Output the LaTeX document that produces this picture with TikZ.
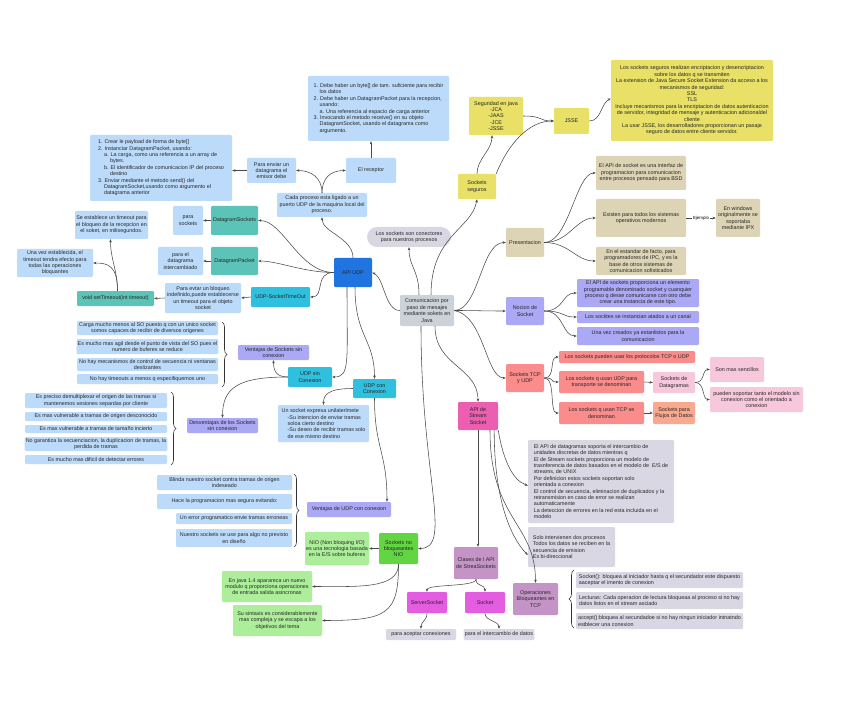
\documentclass[tikz,border=0pt]{standalone}
\usepackage{fontspec}
\setmainfont{Liberation Sans}
\usetikzlibrary{arrows.meta,decorations.pathreplacing}
\definecolor{cYel}{HTML}{E8E067}
\definecolor{cLBlue}{HTML}{BCDBFB}
\definecolor{cTeal}{HTML}{5CC3B8}
\definecolor{cCyan}{HTML}{2EC0DE}
\definecolor{cDBlue}{HTML}{1F74E0}
\definecolor{cPurp}{HTML}{ABA8F5}
\definecolor{cTan}{HTML}{DCD4B4}
\definecolor{cSalm}{HTML}{FA8C8C}
\definecolor{cLPink}{HTML}{F7C8DC}
\definecolor{cOrng}{HTML}{F8A98F}
\definecolor{cHPink}{HTML}{EC5EAF}
\definecolor{cGrey}{HTML}{CDD2D9}
\definecolor{cLav}{HTML}{D9D7E4}
\definecolor{cLGreen}{HTML}{ADEE9A}
\definecolor{cGreen}{HTML}{62D543}
\definecolor{cMauve}{HTML}{C594C7}
\definecolor{cMag}{HTML}{E45DE0}
\definecolor{cLine}{HTML}{4A4A4A}
\newcommand\fs{\fontsize{5.4}{6.4}\selectfont}
\newcommand\ind{\hspace*{6pt}}
\newcommand\boxat[7]{%
  \pgfmathsetmacro\bxw{#5-#3}%
  \pgfmathsetmacro\bxh{#6-#4}%
  \pgfmathsetmacro\bxx{(#3+#5)/2}%
  \pgfmathsetmacro\bxy{(#4+#6)/2}%
  \node[#2, minimum width=\bxw pt, minimum height=\bxh pt] (#1) at (\bxx,\bxy) {#7};}
\tikzset{
  base/.style={rounded corners=1.2pt, inner sep=1.2pt, font=\fs, align=center, text=black!85},
  byel/.style={base, fill=cYel},
  bblue/.style={base, fill=cLBlue},
  bteal/.style={base, fill=cTeal},
  bcyan/.style={base, fill=cCyan},
  bdblue/.style={base, fill=cDBlue},
  bpurp/.style={base, fill=cPurp},
  btan/.style={base, fill=cTan},
  bsalm/.style={base, fill=cSalm},
  blpink/.style={base, fill=cLPink},
  borng/.style={base, fill=cOrng},
  bhpink/.style={base, fill=cHPink},
  bgrey/.style={base, fill=cGrey},
  blav/.style={base, fill=cLav},
  blgreen/.style={base, fill=cLGreen},
  bgreen/.style={base, fill=cGreen},
  bmauve/.style={base, fill=cMauve},
  bmag/.style={base, fill=cMag},
  lnk/.style={draw=cLine, line width=0.55pt, -{Stealth[length=3.2pt,width=2.6pt]}},
  brc/.style={decorate, decoration={brace, amplitude=5pt}, draw=black!80, line width=0.6pt},
}
\begin{document}
\begin{tikzpicture}[x=1pt,y=-1pt]
\useasboundingbox (0,0) rectangle (848,727);
\fill[white] (0,0) rectangle (848,727);

% ---------- top right: secure sockets
\boxat{seg}{byel}{469}{97}{523}{135}{Seguridad en java\\-JCA\\-JAAS\\-JCE\\-JSSE}
\boxat{jsse}{byel}{554}{108}{589}{134}{JSSE}
\boxat{seginfo}{byel}{611}{60}{773}{141}{Los sockets seguros realizan encriptacion y desencriptacion\\sobre los datos q se transmiten\\La extension de Java Secure Socket Extension da acceso a los\\mecanismos de seguridad:\\SSL\\TLS\\Incluye mecanismos para la encriptacion de datos autenticacion\\de servidor, integridad de mensaje y autenticacion adicionaldel\\cliente\\La usar JSSE, los desarrolladores proporcionan un pasaje\\seguro de datos entre cliente servidor.}
\boxat{sockseg}{byel}{458}{174}{496}{199}{Sockets\\seguros}

% ---------- top middle: UDP datagrams
\boxat{recbox}{bblue, align=left}{308}{76}{449}{141}{1. Debe haber un byte[] de tam. suficiente para recibir\\\ind los datos\\2. Debe haber un DatagramPacket para la recepcion,\\\ind usando:\\\ind a. Una referencia al espacio de carga anterior\\3. Invocando el metodo receive() en su objeto\\\ind DatagramSocket, usando el datagrama como\\\ind argumento.}
\boxat{receptor}{bblue}{346}{158}{396}{183}{El receptor}
\boxat{paraenviar}{bblue}{247}{158}{296}{183}{Para enviar un\\datagrama el\\emisor debe}
\boxat{cada}{bblue}{277}{193}{367}{217}{Cada proceso esta ligado a un\\puerto UDP de la maquina local del\\proceso.}
\boxat{emitbox}{bblue, align=left}{90}{135}{232}{201}{1. Crear le payload de forma de byte[]\\2. Instanciar DatagramPacket, usando:\\\ind a. La carga, como una referencia a un array de\\\ind\ind bytes.\\\ind b. El identificador de comunicacion IP del proceso\\\ind\ind destino\\3. Enviar mediante el metodo send() del\\\ind DatagramSocket,usando como argumento el\\\ind datagrama anterior}
\boxat{niudp}{bdblue}{334}{258}{372}{287}{API UDP}

% ---------- left
\boxat{dgsockets}{bteal}{211}{206}{258}{235}{DatagramSockets}
\boxat{parasockets}{bblue}{173}{206}{203}{235}{para\\sockets}
\boxat{dgpacket}{bteal}{211}{247}{258}{275}{DatagramPacket}
\boxat{paradg}{bblue}{158}{247}{203}{275}{para el\\datagrama\\intercambiado}
\boxat{udpto}{bcyan}{251}{287}{310}{307}{UDP-SocketTimeOut}
\boxat{evitar}{bblue}{165}{283}{241}{313}{Para evtar un bloqueo\\indefinido,puede establecerse\\un timeout para el objeto\\socket}
\boxat{settimeout}{bteal}{77}{291}{154}{306}{void setTimeout(int timeout)}
\boxat{tmo1}{bblue}{75}{211}{148}{239}{Se establece un timeout para\\el bloqueo de la recepcion en\\el soket, en milisegundos.}
\boxat{tmo2}{bblue}{17}{249}{93}{277}{Una vez establecida, el\\timeout tendra efecto para\\todas las operaciones\\bloquantes}

% ---------- left middle
\boxat{ventsc}{bpurp}{238}{345}{309}{360}{Ventajas de Sockets sin\\conexion}
\boxat{udpsin}{bcyan}{288}{367}{332}{387}{UDP sin\\Conexion}
\boxat{udpcon}{bcyan}{353}{379}{396}{398}{UDP con\\Conexion}
\boxat{udpconinfo}{bblue, align=left}{278}{405}{369}{442}{Un socket expresa unilaterlmete\\\ind -Su intencion de enviar tramas\\\ind soloa cierto destino\\\ind -Su deseo de recibir tramas solo\\\ind de ese mismo destino}
\boxat{desv}{bpurp}{187}{418}{258}{433}{Desventajas de los Sockets\\sin conexion}
\boxat{v1}{bblue}{77}{321}{218}{335}{Carga mucho menos al SO puesto q con un unico socket\\somos capaces de recibir de diversos origenes}
\boxat{v2}{bblue}{77}{339}{218}{354}{Es mucho mas agil desde el punto de vista del SO pues el\\numero de buferes se reduce}
\boxat{v3}{bblue}{77}{358}{218}{371}{No hay mecanismos de control de secuencia ni ventanas\\deslizantes}
\boxat{v4}{bblue}{77}{374}{218}{384}{No hay timeouts a menos q especifiquemos uno}
\draw[brc] (222,322) -- (222,387);
\boxat{d1}{bblue}{25}{393}{167}{408}{Es preciso demultiplexar el origen de las tramas si\\mantenemos sesiones separdas por cliente}
\boxat{d2}{bblue}{25}{412}{167}{421}{Es mas vulnerable a tramas de origen desconocido}
\boxat{d3}{bblue}{25}{425}{167}{433}{Es mas vulnerable a tramas de tamaño incierto}
\boxat{d4}{bblue}{25}{437}{167}{451}{No garantiza la secuenciacion, la duplicacion de tramas, la\\perdida de tramas}
\boxat{d5}{bblue}{25}{455}{167}{464}{Es mucho mas dificil de detectar errores}
\draw[brc] (171,392) -- (171,465);

% ---------- bottom left
\boxat{ventudp}{bpurp}{307}{502}{391}{517}{Ventajas de UDP con conexion}
\boxat{u1}{bblue}{157}{475}{292}{490}{Blinda nuestro socket contra tramas de origen\\indeseado}
\boxat{u2}{bblue}{157}{494}{292}{509}{Hace la programacion mas segura evitando:}
\boxat{u3}{bblue}{176}{513}{292}{524}{Un error programatico envie tramas erroneas}
\boxat{u4}{bblue}{176}{529}{292}{547}{Nuestro sockets se use para algo no previsto\\en diseño}
\draw[brc] (294,474) -- (294,547);
\boxat{nio}{blgreen}{305}{532}{369}{565}{NIO (Non bloquing I/O)\\es una tecnologia basada\\en la E/S sobre buferes}
\boxat{socknb}{bgreen}{379}{533}{418}{564}{Sockets no\\bloqueantes\\NIO}
\boxat{j14}{blgreen}{222}{571}{312}{602}{En java 1.4 aparareca un nuevo\\modulo q proporciona operaciones\\de entrada salida asincronas}
\boxat{sintaxis}{blgreen}{233}{605}{322}{636}{Su sintaxis es considerablemente\\mas compleja y se escapa a los\\objetivos del tema}

% ---------- centre
\boxat{com}{bgrey}{400}{295}{454}{326}{Comunicacion por\\paso de mesajes\\mediante sokets en\\Java}
\node[base, fill=cLav, rounded corners=10pt, minimum width=84pt, minimum height=20pt] (conectores) at (409,237) {Los sockets son conectores\\para nuestros procesos};

% ---------- right
\boxat{pres}{btan}{506}{228}{544}{257}{Presentacion}
\boxat{nocion}{bpurp}{506}{297}{544}{325}{Nocion de\\Socket}
\boxat{socktcp}{bsalm}{506}{364}{544}{392}{Sockets TCP\\y UDP}
\boxat{apistream}{bhpink}{458}{402}{498}{430}{API de\\Stream\\Socket}
\boxat{p1}{btan}{596}{156}{686}{190}{El API de socket es una interfaz de\\programacion para comunicacion\\entre procesos pensado para BSD}
\boxat{p2}{btan}{596}{199}{686}{237}{Existen para todos los sistemas\\operativos modernos}
\boxat{p3}{btan}{596}{247}{686}{275}{En el estandar de facto, para\\programadores de IPC, y es la\\base de otros sistemas de\\comunicacion sofisticados}
\boxat{windows}{btan}{716}{199}{760}{237}{En windows\\originalmente se\\soportaba\\mediante IPX}
\boxat{n1}{bpurp}{577}{279}{699}{307}{El API de sockets proporciona un elemento\\programable denominado socket y cuanquier\\proceso q desse comunicarse con otro debe\\crear una instancia de este tipo.}
\boxat{n2}{bpurp}{577}{311}{699}{323}{Los socktes se instancian atados a un canal}
\boxat{n3}{bpurp}{577}{327}{699}{345}{Una vez creados ya estanlistos para la\\comunicacion}
\boxat{t1}{bsalm}{559}{351}{695}{363}{Los sockets pueden usar los protocolos TCP o UDP}
\boxat{t2}{bsalm}{559}{371}{644}{393}{Los sockets q usan UDP para\\transporte se denominan}
\boxat{t3}{bsalm}{559}{402}{644}{424}{Los sockets q usan TCP se\\denominan}
\boxat{dgram}{blpink}{653}{372}{695}{393}{Sockets de\\Datagramas}
\boxat{flujo}{borng}{653}{402}{695}{424}{Sockets para\\Flujos de Datos}
\boxat{sencillos}{blpink}{710}{357}{764}{382}{Son mas sencillos}
\boxat{soportar}{blpink}{710}{387}{803}{412}{pueden soportar tanto el modelo sin\\conexion como el orientado a\\conexion}

% ---------- bottom middle / right
\boxat{bigbox}{blav, align=left}{528}{440}{674}{523}{El API de datagramas soporta el intercambio de\\unidades discretas de datos mientras q\\El de Stream sockets proporciona un modelo de\\trasnferencia de datos basados en el modelo de\ \ E/S de\\streams, de UNIX\\Por definicion estos sockets soportan solo\\orientada a conexion\\El control de secuencia, eliminacion de duplicados y la\\retransmision en caso de error se realizan\\automaticamente\\La deteccion de errores en la red esta incluida en el\\modelo}
\boxat{solo}{blav, align=left}{528}{527}{615}{567}{Solo intervienen dos procesos\\Todos los datos se reciben en la\\secuencia de emision\\Es bi-direccional}
\boxat{clases}{bmauve}{454}{547}{498}{579}{Clases de l API\\de StreaSockets}
\boxat{ops}{bmauve}{513}{583}{558}{615}{Operaciones\\Bloqueantes en\\TCP}
\boxat{server}{bmag}{407}{592}{447}{613}{ServerSocket}
\boxat{socket}{bmag}{465}{592}{505}{613}{Socket}
\boxat{aceptar}{blav}{386}{629}{456}{640}{para aceptar conexiones}
\boxat{intercambio}{blav}{464}{629}{534}{640}{para el intercambio de datos}
\boxat{o1}{blav, align=left}{576}{572}{743}{588}{Socket(): bloquea al iniciador hasta q el secundador este dispuesto\\aaceptar el imento de conexion}
\boxat{o2}{blav, align=left}{576}{592}{743}{609}{Lecturas: Cada operacion de lectura bloqueaa al proceso si no hay\\datos listos en el stream asciado}
\boxat{o3}{blav, align=left}{576}{613}{743}{629}{accept():bloquea al secundadoe si no hay ningun iniciador intnatndo\\estblecer una conexion}
\draw[brc] (574,628) -- (574,570);

% ---------- connectors
\draw[lnk] ([xshift=-8pt]com.north) .. controls +(0,-25) and +(0,20) .. (conectores.south);
\draw[lnk] ([xshift=4pt]com.north) .. controls +(0,-60) and +(-5,30) .. (sockseg.south);
\draw[lnk] (sockseg.north) .. controls +(0,-15) and +(0,15) .. ([xshift=-4pt]seg.south);
\draw[lnk] (sockseg.north east) .. controls +(12,-30) and +(-25,0) .. (jsse.west);
\draw[lnk] (seg.east) .. controls +(20,0) and +(-15,0) .. (jsse.west);
\draw[lnk] (jsse.east) .. controls +(12,0) and +(-10,5) .. ([yshift=2pt]seginfo.west);

\draw[lnk] (com.west) .. controls +(-15,0) and +(12,5) .. (niudp.east);
\draw[lnk] (niudp.north) .. controls +(0,-20) and +(0,15) .. (cada.south);
\draw[lnk] (cada.north) .. controls +(0,-15) and +(15,0) .. (paraenviar.east);
\draw[lnk] (cada.north) .. controls +(0,-15) and +(-15,0) .. (receptor.west);
\draw[lnk] (receptor.north) -- (receptor.north |- recbox.south);
\draw[lnk] (paraenviar.west) -- (paraenviar.west -| emitbox.east);

\draw[lnk] (niudp.west) .. controls +(-35,0) and +(25,0) .. (dgsockets.east);
\draw[lnk] (niudp.west) .. controls +(-30,0) and +(20,0) .. (dgpacket.east);
\draw[lnk] (niudp.west) .. controls +(-20,0) and +(15,0) .. (udpto.east);
\draw[lnk] (dgsockets.west) -- (parasockets.east);
\draw[lnk] (dgpacket.west) -- (paradg.east);
\draw[lnk] (udpto.west) -- (evitar.east);
\draw[lnk] (evitar.west) -- (settimeout.east);
\draw[lnk] ([xshift=2pt]settimeout.north) .. controls +(0,-20) and +(0,20) .. ([xshift=-1pt]tmo1.south);
\draw[lnk] ([xshift=2pt]settimeout.north) .. controls +(0,-25) and +(15,0) .. (tmo2.east);

\draw[lnk] ([xshift=-6pt]niudp.south) .. controls +(0,75) and +(18,0) .. (udpsin.east);
\draw[lnk] ([xshift=2pt]niudp.south) .. controls +(0,50) and +(0,-40) .. (udpcon.north);
\draw[lnk] (udpsin.west) .. controls +(-12,0) and +(0,10) .. (ventsc.south);
\draw[lnk] (udpsin.west) .. controls +(-50,0) and +(0,-30) .. (desv.north);
\draw[lnk] (udpcon.west) .. controls +(-25,0) and +(0,-10) .. (udpconinfo.north);
\draw[lnk] (udpcon.south) .. controls +(0,50) and +(0,-50) .. ([xshift=38pt]ventudp.north);

\draw[lnk] ([xshift=-6pt]com.south) .. controls +(0,150) and +(35,0) .. (socknb.east);
\draw[lnk] (socknb.west) -- (nio.east);
\draw[lnk] (socknb.south) .. controls +(0,25) and +(45,0) .. (j14.east);
\draw[lnk] (socknb.south) .. controls +(0,50) and +(65,0) .. (sintaxis.east);

\draw[lnk] (com.east) .. controls +(25,0) and +(-25,0) .. (pres.west);
\draw[lnk] (com.east) .. controls +(25,0) and +(-25,0) .. (nocion.west);
\draw[lnk] (com.east) .. controls +(30,5) and +(-20,0) .. (socktcp.west);
\draw[lnk] ([xshift=8pt]com.south) .. controls +(0,40) and +(0,-35) .. (apistream.north);

\draw[lnk] (pres.east) .. controls +(25,0) and +(-20,0) .. (p1.west);
\draw[lnk] (pres.east) .. controls +(25,0) and +(-20,0) .. (p2.west);
\draw[lnk] (pres.east) .. controls +(25,0) and +(-20,0) .. (p3.west);
\draw[lnk] (p2.east) -- node[fill=white, inner sep=0.6pt, font=\fontsize{4.4}{5}\selectfont] {Ejemplo} (windows.west);

\draw[lnk] (nocion.east) .. controls +(20,0) and +(-15,0) .. (n1.west);
\draw[lnk] (nocion.east) .. controls +(20,0) and +(-15,0) .. (n2.west);
\draw[lnk] (nocion.east) .. controls +(20,0) and +(-15,0) .. (n3.west);

\draw[lnk] (socktcp.east) .. controls +(12,0) and +(-10,0) .. (t1.west);
\draw[lnk] (socktcp.east) .. controls +(12,0) and +(-10,0) .. (t2.west);
\draw[lnk] (socktcp.east) .. controls +(12,0) and +(-10,0) .. (t3.west);
\draw[lnk] (t2.east) -- (dgram.west);
\draw[lnk] (t3.east) -- (flujo.west);
\draw[lnk] (dgram.east) .. controls +(10,0) and +(-8,0) .. (sencillos.west);
\draw[lnk] (dgram.east) .. controls +(10,0) and +(-8,0) .. (soportar.west);

\draw[lnk] (apistream.south east) .. controls +(5,30) and +(-15,-5) .. ([yshift=-4pt]bigbox.west);
\draw[lnk] ([xshift=-4pt]apistream.south east) .. controls +(0,80) and +(-12,-12) .. ([yshift=-8pt]solo.west);
\draw[lnk] (apistream.south) -- (apistream.south |- clases.north);
\draw[lnk] ([xshift=12pt]apistream.south) .. controls +(0,90) and +(0,-60) .. (ops.north);
\draw[lnk] (clases.south) .. controls +(0,8) and +(0,-8) .. (server.north);
\draw[lnk] (clases.south) .. controls +(0,8) and +(0,-8) .. (socket.north);
\draw[lnk] (server.south) .. controls +(0,8) and +(0,-8) .. (aceptar.north);
\draw[lnk] (socket.south) .. controls +(0,8) and +(0,-8) .. (intercambio.north);
\end{tikzpicture}
\end{document}
